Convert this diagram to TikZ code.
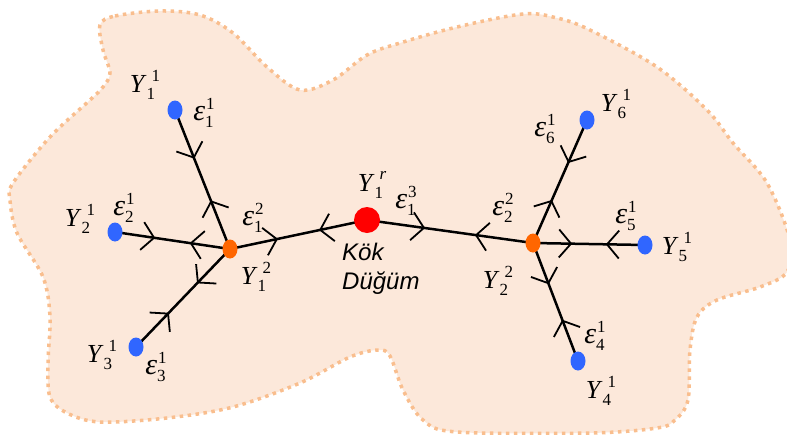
\documentclass[tikz,border=0pt]{standalone}
\usepackage{fontspec}
\setmainfont{Liberation Serif}
\newfontfamily\kokfont{Liberation Sans}
\usetikzlibrary{arrows.meta,decorations.markings,shapes.geometric}
\definecolor{blobfill}{RGB}{252,232,218}
\definecolor{blobline}{RGB}{249,190,142}
\definecolor{leafblue}{RGB}{48,102,255}
\definecolor{midorange}{RGB}{255,102,0}
\definecolor{rootred}{RGB}{255,0,0}
% base letter, subscript, superscript, shift of the superscript
\newcommand{\sclab}[4]{\textit{#1}\makebox[0pt][l]{\raisebox{-7pt}{\fontsize{17}{17}\selectfont #2}}\hspace{#4}\raisebox{11.5pt}{\fontsize{17}{17}\selectfont #3}}
\newcommand{\ylab}[2]{\sclab{Y}{#1}{#2}{5pt}}
\newcommand{\elab}[2]{\sclab{\fontsize{30}{30}\selectfont ε}{#1}{#2}{1pt}}
\tikzset{
  chev/.tip={Straight Barb[length=12pt,width=28pt,line width=1.8pt]},
  msg/.style={line width=2.5pt,postaction={decorate},
    decoration={markings,
      mark=at position 0.35 with {\arrow{chev}},
      mark=at position 0.65 with {\arrowreversed{chev}}}},
  leaf/.style={ellipse,fill=leafblue,minimum width=15pt,minimum height=19pt,inner sep=0pt},
  midnode/.style={ellipse,fill=midorange,minimum width=15pt,minimum height=19pt,inner sep=0pt},
  rootnode/.style={circle,fill=rootred,minimum size=26pt,inner sep=0pt},
  lbl/.style={inner sep=0pt,font=\fontsize{26}{28}\selectfont}
}
\begin{document}
\begin{tikzpicture}[x=1pt,y=-1pt]
\useasboundingbox (0,0) rectangle (787,434);
\clip (0,0) rectangle (787,434);
% region
\draw[blobline,fill=blobfill,line width=3.5pt,dash pattern=on 3.5pt off 4.5pt]
  plot[smooth cycle,tension=0.55] coordinates {
  (100,25) (115,16) (160,11) (200,15) (233,33) (267,67) (300,90) (333,80)
  (367,55) (400,43) (457,27) (523,14) (557,18) (590,30) (657,67) (707,110)
  (733,143) (767,183) (790,240) (787,272) (760,287) (717,300) (697,317)
  (690,350) (688,400) (675,420) (657,428) (590,433) (457,432) (423,420)
  (403,390) (390,356) (378,350) (350,357) (300,383) (233,407) (167,418)
  (100,422) (67,413) (50,397) (48,363) (50,317) (43,277) (17,233) (10,200)
  (13,183) (50,137) (90,100) (103,87) (110,73) (103,50)};
% tree
\coordinate (root) at (367,220);
\coordinate (y12) at (230,249);
\coordinate (y22) at (533,243);
\coordinate (y11) at (175,110);
\coordinate (y21) at (115,232);
\coordinate (y31) at (136,347);
\coordinate (y61) at (587,120);
\coordinate (y51) at (645,245);
\coordinate (y41) at (578,361);
\draw[msg] (y11) -- (y12);
\draw[msg] (y21) -- (y12);
\draw[msg] (y31) -- (y12);
\draw[msg] (y12) -- (root);
\draw[msg] (y22) -- (root);
\draw[msg] (y61) -- (y22);
\draw[msg] (y51) -- (y22);
\draw[msg] (y41) -- (y22);
\node[rootnode] (kokdugum) at (root) {};
\node[midnode] (n12) at (y12) {};
\node[midnode] (n22) at (y22) {};
\foreach \p in {y11,y21,y31,y61,y51,y41}
  \node[leaf] (n\p) at (\p) {};
% labels
\node[lbl] (ly11) at (145,85) {\ylab{1}{1}};
\node[lbl] (le11) at (204,113) {\elab{1}{1}};
\node[lbl] (ly21) at (80,219) {\ylab{2}{1}};
\node[lbl] (le21) at (124,208) {\elab{2}{1}};
\node[lbl] (ly31) at (102,355) {\ylab{3}{1}};
\node[lbl] (le31) at (156,367) {\elab{3}{1}};
\node[lbl] (le12) at (253,218) {\elab{1}{2}};
\node[lbl] (ly12) at (256,277) {\ylab{1}{2}};
\node[lbl] (lyr) at (372,185) {\sclab{Y}{1}{\textit{r}}{5pt}};
\node[lbl] (le13) at (406,201) {\elab{1}{3}};
\node[lbl] (le22) at (503,208) {\elab{2}{2}};
\node[lbl] (ly22) at (498,281) {\ylab{2}{2}};
\node[lbl] (le61) at (545,129) {\elab{6}{1}};
\node[lbl] (ly61) at (616,104) {\ylab{6}{1}};
\node[lbl] (le51) at (626,216) {\elab{5}{1}};
\node[lbl] (ly51) at (677,247) {\ylab{5}{1}};
\node[lbl] (le41) at (595,336) {\elab{4}{1}};
\node[lbl] (ly41) at (601,391) {\ylab{4}{1}};
\node[anchor=north west,align=left,inner sep=0pt,
  font=\kokfont\itshape\fontsize{24}{29}\selectfont] (koktext) at (342,243) {Kök\\Düğüm};
\end{tikzpicture}
\end{document}
